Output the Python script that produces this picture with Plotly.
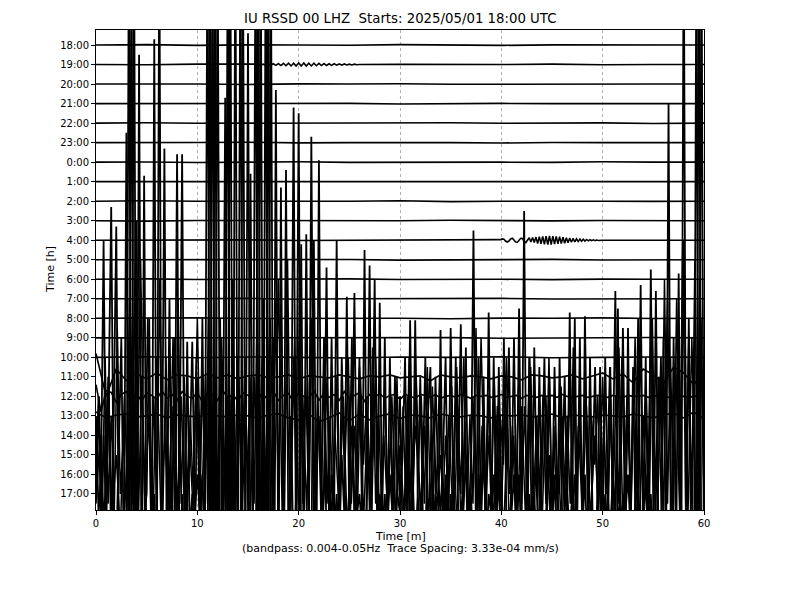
import numpy as np
import plotly.graph_objects as go

# ---------------- data (trace values in units of trace spacing) ----------------
hour_labels = ["18:00", "19:00", "20:00", "21:00", "22:00", "23:00", "0:00", "1:00",
               "2:00", "3:00", "4:00", "5:00", "6:00", "7:00", "8:00", "9:00",
               "10:00", "11:00", "12:00", "13:00", "14:00", "15:00", "16:00", "17:00"]
x_ticks = [0, 10, 20, 30, 40, 50, 60]

# quiet hours, sampled every 5 min
tr_1800 = [0.0, 0.02, -0.02, 0.01, 0.0, -0.01, 0.02, 0.0, -0.02, 0.01, 0.0, 0.01, 0.0]
tr_1900 = [0.0, -0.01, 0.02, 0.0, 0.0, 0.0, 0.01, -0.01, 0.0, 0.02, -0.01, 0.0, 0.0]
tr_2000 = [0.0, 0.01, 0.0, -0.02, 0.01, 0.0, 0.02, -0.01, 0.0, 0.01, -0.01, 0.0, 0.0]
tr_2100 = [0.0, 0.0, 0.02, -0.01, 0.0, 0.01, -0.02, 0.0, 0.01, 0.0, -0.01, 0.01, 0.0]
tr_2200 = [0.0, 0.02, -0.01, 0.0, 0.01, -0.01, 0.0, 0.02, -0.01, 0.0, 0.01, -0.02, 0.0]
tr_2300 = [0.0, -0.01, 0.01, 0.02, -0.01, 0.0, 0.01, 0.0, -0.02, 0.01, 0.0, 0.01, 0.0]
tr_0000 = [0.0, 0.01, -0.02, 0.0, 0.02, -0.01, 0.0, 0.01, 0.0, -0.01, 0.02, 0.0, 0.0]
tr_0100 = [0.0, 0.0, 0.01, -0.01, 0.02, 0.0, -0.01, 0.01, 0.0, 0.02, -0.01, 0.0, 0.0]
tr_0200 = [0.0, 0.02, 0.0, -0.01, 0.01, 0.0, 0.02, -0.02, 0.0, 0.01, 0.0, -0.01, 0.0]
tr_0300 = [0.0, -0.02, 0.01, 0.0, 0.01, -0.01, 0.0, 0.02, 0.0, -0.01, 0.01, 0.0, 0.0]
tr_0400 = [0.0, 0.01, 0.0, 0.02, -0.01, 0.0, 0.01, -0.01, 0.0, 0.0, 0.01, 0.0, 0.0]
tr_0500 = [0.0, 0.0, -0.01, 0.02, 0.0, 0.01, -0.02, 0.0, 0.01, 0.02, -0.01, 0.0, 0.0]
tr_0600 = [0.0, 0.02, -0.01, 0.0, 0.0, 0.02, -0.01, 0.01, 0.0, -0.02, 0.01, 0.0, 0.0]
tr_0700 = [0.0, -0.01, 0.0, 0.02, -0.02, 0.0, 0.01, 0.0, 0.02, -0.01, 0.0, 0.01, 0.0]
tr_0800 = [0.0, 0.01, 0.02, -0.01, 0.0, 0.01, 0.0, -0.02, 0.01, 0.0, 0.02, -0.01, 0.0]
tr_0900 = [0.0, 0.0, 0.02, 0.0, -0.01, 0.02, 0.0, 0.01, -0.02, 0.0, 0.01, 0.02, 0.0]
tr_1000 = [0.0, 0.03, -0.02, 0.02, 0.0, -0.03, 0.02, 0.0, 0.03, -0.02, 0.0, 0.02, 0.0]

# 19:00 small wave train, every 0.25 min starting at 16.0 min
burst_1900_start = 16.0
burst_1900 = [0.02, -0.02, 0.02, -0.03, 0.03, -0.03, 0.04, -0.04, 0.05, -0.05, 0.06, -0.06,
              0.07, -0.07, 0.07, -0.08, 0.08, -0.07, 0.08, -0.08, 0.07, -0.07, 0.07, -0.06,
              0.06, -0.05, 0.05, -0.05, 0.04, -0.04, 0.04, -0.03, 0.03, -0.03, 0.03, -0.02,
              0.02, -0.02, 0.02, -0.01, 0.0]
# 4:00 surface wave train, every 10 s starting at 39.75 min
burst_0400_start = 39.75
burst_0400 = [0.0, 0.03, 0.07, 0.05, -0.04, -0.09, -0.04, 0.07, 0.1, 0.02, -0.09, -0.1,
              0.0, 0.1, 0.09, -0.07, -0.12, 0.04, 0.13, -0.09, 0.14, -0.12, 0.16, -0.17,
              0.18, -0.19, 0.2, -0.21, 0.21, -0.22, 0.22, -0.22, 0.21, -0.2, 0.2, -0.19,
              0.18, -0.17, 0.16, -0.15, 0.13, -0.13, 0.11, -0.1, 0.09, -0.08, 0.07, -0.07,
              0.06, -0.05, 0.05, -0.04, 0.04, -0.03, 0.03, -0.02, 0.02, -0.02, 0.01,
              -0.01, 0.01, 0.0, 0.0, 0.0]

# 11:00 and 13:00, sampled every 1 min
tr_1100 = [1.2, -1.0, 0.4, -0.2, 0.15, -0.1, 0.2, -0.15, 0.1, 0.05, -0.1, 0.15, -0.05,
           0.1, -0.1, 0.05, 0.1, -0.05, 0.0, 0.1, -0.1, 0.05, 0.0, -0.05, 0.1, 0.0, -0.1,
           0.05, 0.0, 0.1, -0.05, 0.0, 0.05, -0.2, 0.1, 0.0, -0.05, 0.05, 0.0, -0.1, 0.05,
           0.0, -0.15, 0.1, 0.05, -0.05, 0.0, 0.1, -0.1, 0.05, 0.2, -0.1, 0.15, -0.3, 0.4,
           0.1, -0.35, 0.5, 0.2, -0.4, 0.3]
tr_1300 = [0.2, -0.1, 0.05, 0.1, -0.05, 0.0, 0.1, -0.1, 0.05, 0.0, -0.05, 0.1, 0.0, -0.05,
           0.05, 0.0, -0.1, 0.05, 0.1, -0.1, -0.2, 0.1, -0.3, -0.1, 0.15, -0.25, 0.1, -0.2,
           0.0, 0.1, -0.15, 0.05, 0.0, -0.1, 0.1, 0.0, -0.05, 0.05, 0.0, -0.1, 0.05, 0.0,
           0.05, -0.05, 0.0, 0.1, -0.1, 0.05, 0.0, -0.05, 0.05, 0.0, -0.05, 0.1, 0.0, -0.1,
           0.05, 0.15, -0.1, 0.2, -0.15]

# 12:00, sampled every 0.5 min
tr_1200 = [0.6, -0.8, 0.3, 0.2, -0.3, 0.1, 0.25, -0.2, 0.15, -0.25, 0.2, 0.05, -0.15, 0.3,
           -0.1, 0.1, -0.2, 0.25, 0.0, -0.1, 0.2, -0.3, 0.15, 0.1, -0.2, 0.3, -0.05, 0.1,
           -0.25, 0.2, 0.05, -0.1, 0.2, -0.15, 0.1, 0.25, -0.2, 0.05, 0.15, -0.3, 0.2, 0.0,
           -0.1, 0.3, -0.2, 0.15, -0.05, 0.1, -0.2, 0.25, -0.1, 0.05, 0.2, -0.25, 0.1, -0.05,
           0.15, -0.1, 0.05, 0.1, -0.15, 0.1, 0.0, -0.1, 0.1, 0.05, -0.05, 0.1, -0.1, 0.0,
           0.05, -0.05, 0.1, 0.0, -0.1, 0.05, 0.0, 0.05, -0.05, 0.0, 0.1, -0.05, 0.0, 0.05,
           -0.1, 0.05, 0.0, -0.05, 0.05, 0.0, 0.05, -0.05, 0.1, 0.0, -0.05, 0.0, 0.05, -0.05,
           0.0, 0.05, 0.0, -0.05, 0.05, 0.0, -0.05, 0.05, 0.0, 0.0, 0.05, -0.05, 0.0, 0.05,
           0.0, -0.05, 0.0, 0.05, 0.0, -0.05, 0.0, 0.05, 0.0]

# 14:00 and 15:00 (very large long-period noise), sampled every 0.25 min
tr_1400 = [1, -4, -2, 10, -5, 2, 11.7, -4, -6, -1, 5, -7, -9, 27, -10, 27,
           -11, 19.5, -9, -4, -3, 6, -8, 20.3, -10, -6, -4, 14.7, -8, -2, -5, 5,
           -6, -2, 14.4, -7, -3, -1, 4.8, -4, -2, -4, 6, -6, 27, -10, 27, -11,
           27, -9, -5, 17.3, -10, 27, -11, 27, -10, 27, -9, -6, 20.6, -8, -4, 27,
           -11, 27, -10, 27, -12, 27, -9, 17.7, -9, 12.7, -8, 13.6, -7, -3, 16.8, -8,
           -5, 9.8, -7, 10.3, -6, 15.3, -5, -7, 14.1, -6, -3, 8.6, -5, -2, -4, 10.0,
           -6, -1, -4, 7.1, -5, -2, 7.3, -4, -3, -5, 9.5, -6, -4, -1, 8.0, -5,
           -3, -4, 5, -5, -2, -4, 3, -3, -4, -1, 4, -5, 5.9, -4, 5.9, -3,
           -5, -2, 4, -4, -3, -5, 3, -2, -4, -1, 4, -5, 5.5, -3, -5, -2,
           5.7, -4, -1, -5, -3, 10.5, -6, -2, -4, -1, -5, 6.3, -4, -2, -5, 3.5,
           -3, -5, -1, 4.5, -4, -2, -5, 6.5, -5, 11.5, -6, -3, -5, 4.5, -3, -5,
           -2, 4, -4, -1, -4, 3.5, -3, -5, -2, 3, -4, 6.3, -5, -2, -4, 5,
           -6, 6.1, -3, -5, -2, 3.5, -4, -1, -5, 4, -3, -5, -2, 7.4, -5, -3,
           5.5, -4, -2, -5, 3.5, -5, -3, 7.7, -5, -2, -6, 8.5, -4, -6, -2, 4,
           -5, -7, 17, -8, -4, -6, 8.3, -9, 27, -10, -5, -7, 4, -9, 27, -10,
           -6]
tr_1500 = [-2, 3, -4, 1, -3, 4, -5, 2, 11.7, -5, -3, -6, 16.5, -9, 27, -10,
           12, -11, -7, 14.3, -8, -3, -6, -2, -7, 27, -10, -6, -4, 8, -6, -3,
           15.4, -7, -2, -5, 5.8, -4, -2, -5, 4, -3, -1, -5, -8, 27, -11, 27,
           -10, 7, -9, -6, 27, -10, 9, -11, -8, -10, 27, -9, -6, 14.4, -7, -10,
           27, -11, 8, -10, 27, -12, 6, -10, -6, -8, -3, -7, -5, 2, -6, -2,
           17.5, -6, -4, -7, -3, -6, 11, -5, -6, -2, 6, -5, -3, 6, -4, -2,
           -5, 5, -3, -6, -2, 6, -4, -1, 5, -3, -5, -2, 9.7, -5, -3, -6,
           7.8, -4, -2, -5, 5, -3, -5, -1, 3, -4, -2, 3, -4, -1, -5, -2,
           4, -3, -5, 2, 4.5, -4, -2, -5, 6.4, -4, -1, -5, -2, -4, 5, -3,
           -5, -2, 5.5, -4, -2, -5, -3, 5, -4, 4, -5, -2, -3, 5, -4, -1,
           -5, 6, -3, -5, -2, 6, -4, -1, -5, -3, -6, 5, -4, -2, -5, 4.5,
           -3, -5, -2, 4, -4, -1, -5, 5, -3, -5, -2, -4, -2, 7, -5, -3,
           -4, -1, -5, 5, -3, -5, -2, 4.5, -4, -2, -5, 4.5, -3, -5, 7.5, -4,
           -2, -5, 6.5, -4, -5, -2, 7, -4, -3, 5, -5, -2, -5, 8.4, -4, -6,
           6, -5, -3, -6, 6, -4, -6, -3, -8, -5, 7, -6, -9, 27, -10, 27,
           -8]

# 16:00 sampled every 0.3 min, 17:00 sampled every 0.4 min
tr_1600 = [0.5, 4, -2, 6, -1.5, 3, -2, 7.5, -1, 2,
           -2, 9, -1.5, 13, -2, 5, -1, 8, -2, 4,
           -1.5, 10, -2, 6, -1, 3.5, -2, 9, -1.5, 5,
           -2, 3, -1, 6, -2, 5, -1.5, 8, -2, 4,
           -1, 7, -2, 4, -1.5, 9, -2, 5, -1, 6,
           -2, 5, -1.5, 8, -2, 4, -1, 7, -2, 9,
           -1.5, 7, -2, 11, -1, 6, -2, 10, -1.5, 5,
           -2, 8, -1, 4, -2, 6, -1.5, 3, -2, 5,
           -1, 3, 1, 6, -1.5, 2.5, -2, 5, 0.5, 4,
           -2, 6.5, -1.5, 3, -2, 4.5, -1, 2, -2, 5,
           -1.5, 3.5, -2, 6, -1, 2.5, 0.5, 4, -1.5, 5.5,
           -2, 3, -1, 5, -2, 2, -1.5, 4.5, -2, 3.5,
           -1, 6, -2, 3, -1.5, 7.5, -2, 2.5, -1, 4,
           -2, 5, -1.5, 3, 0.5, 6, -1, 2.5, -2, 4.5,
           -1.5, 3.5, -2, 5.5, -1, 3, -2, 4, -1.5, 6,
           -2, 2.5, -1, 4.5, -2, 3, -1.5, 6.5, -2, 3.5,
           -1, 5, -2, 3, 0.5, 4, -2, 2.5, -1, 5.5,
           -2, 4, -1.5, 6, -2, 3, -1, 5.5, -2, 7,
           -1.5, 4, -2, 8, -1, 5, -2, 10, -1.5, 6,
           -2, 9, -1, 12, -2, 7, -1.5, 11, -2, 8,
           -1]
tr_1700 = [-0.5, 3, -1.5, 6, -1, 2, -2, 5, -1, 9,
           -1.5, 12, -1, 4, -2, 7, -1, 3, -1.5, 8,
           -1, 5, -2, 3, -1, 9, -1.5, 6, -1, 4,
           -2, 8, -1, 5, -1.5, 7, -1, 4, -2, 6,
           -1, 7, -1.5, 9, -1, 11, -2, 6, -1, 8,
           -1.5, 5, -1, 9, -2, 4, -1, 6, -1.5, 3,
           -1, 5, -2, 3.5, -1, 6.5, -1.5, 4, -1, 7,
           -2, 3, -1, 5, -1.5, 2.5, -1, 4.5, -2, 6,
           -1, 3.5, -1.5, 5.5, -1, 2, -2, 4, -1, 6.5,
           -1.5, 3, -1, 5, -2, 8, -1, 3, -1.5, 4.5,
           -1, 6, -2, 3, -1, 4.5, -1.5, 7, -1, 3,
           -2, 5, -1, 2.5, -1.5, 4, -1, 6, -2, 3.5,
           -1, 4.5, -1.5, 3, -1, 6, -2, 4, -1, 7.5,
           -1.5, 5, -1, 8, -2, 4, -1, 9, -1.5, 6,
           -1, 10, -2, 7, -1, 13, -1.5, 8, -1, 11,
           -0.5]

title_text = "IU RSSD 00 LHZ\u00a0 Starts: 2025/05/01 18:00 UTC"
xlabel_text = "Time [m]"
subtitle_text = "(bandpass: 0.004-0.05Hz\u00a0 Trace Spacing: 3.33e-04 mm/s)"
ylabel_text = "Time [h]"

# ---------------- build ----------------
def sampled(vals):
    return np.linspace(0.0, 60.0, len(vals)), np.asarray(vals, dtype=float)

def with_burst(base, burst, start, step):
    tb, vb = base
    ts = start + step * np.arange(len(burst))
    keep = (tb < ts[0]) | (tb > ts[-1])
    t = np.concatenate([tb[keep], ts])
    v = np.concatenate([vb[keep], np.asarray(burst, dtype=float)])
    order = np.argsort(t)
    return t[order], v[order]

traces = [
    sampled(tr_1800),
    with_burst(sampled(tr_1900), burst_1900, burst_1900_start, 0.25),
    sampled(tr_2000), sampled(tr_2100), sampled(tr_2200), sampled(tr_2300),
    sampled(tr_0000), sampled(tr_0100), sampled(tr_0200), sampled(tr_0300),
    with_burst(sampled(tr_0400), burst_0400, burst_0400_start, 1.0 / 6.0),
    sampled(tr_0500), sampled(tr_0600), sampled(tr_0700), sampled(tr_0800),
    sampled(tr_0900), sampled(tr_1000), sampled(tr_1100), sampled(tr_1200),
    sampled(tr_1300), sampled(tr_1400), sampled(tr_1500), sampled(tr_1600),
    sampled(tr_1700),
]

line_widths = [1.6] * 20 + [1.8, 1.8, 1.5, 1.5]

fig = go.Figure()
for k, (t, v) in enumerate(traces):
    fig.add_trace(go.Scatter(x=t, y=v - k, mode="lines",
                             line=dict(color="black", width=line_widths[k]),
                             hoverinfo="skip", showlegend=False))

font = "DejaVu Sans, Arial, sans-serif"
# the page body has an 8 px margin, so the figure is 8 px smaller and the
# left/top margins 8 px smaller to keep the plot box at x 96-704, y 30-510
fig.update_layout(
    width=792, height=592,
    margin=dict(l=88, r=96, t=22, b=90),
    paper_bgcolor="white", plot_bgcolor="white",
    font=dict(family=font, size=10, color="black"),
    xaxis=dict(range=[0, 60], tickvals=x_ticks, ticks="outside", ticklen=4,
               tickcolor="black", showline=True, mirror=True, linecolor="black",
               linewidth=1, showgrid=True, gridcolor="#b0b0b0", gridwidth=0.8,
               griddash="dot", zeroline=False, tickfont=dict(size=10)),
    yaxis=dict(range=[-23.82, 0.77], tickvals=[-k for k in range(len(hour_labels))],
               ticktext=hour_labels, ticks="outside", ticklen=4, tickcolor="black",
               showline=True, mirror=True, linecolor="black", linewidth=1,
               showgrid=False, zeroline=False, tickfont=dict(size=10)),
    annotations=[
        dict(text=title_text, x=0.5, y=(510 - 19) / 480, xref="paper", yref="paper",
             showarrow=False, font=dict(size=13.3), xanchor="center", yanchor="middle"),
        dict(text=xlabel_text, x=0.5, y=(510 - 536) / 480, xref="paper", yref="paper",
             showarrow=False, font=dict(size=11), xanchor="center", yanchor="middle"),
        dict(text=subtitle_text, x=0.5, y=(510 - 548) / 480, xref="paper", yref="paper",
             showarrow=False, font=dict(size=11), xanchor="center", yanchor="middle"),
        dict(text=ylabel_text, x=(50 - 96) / 608, y=(510 - 270) / 480, xref="paper",
             yref="paper", showarrow=False, textangle=-90, font=dict(size=11),
             xanchor="center", yanchor="middle"),
    ],
)

fig.write_html("out.html")
